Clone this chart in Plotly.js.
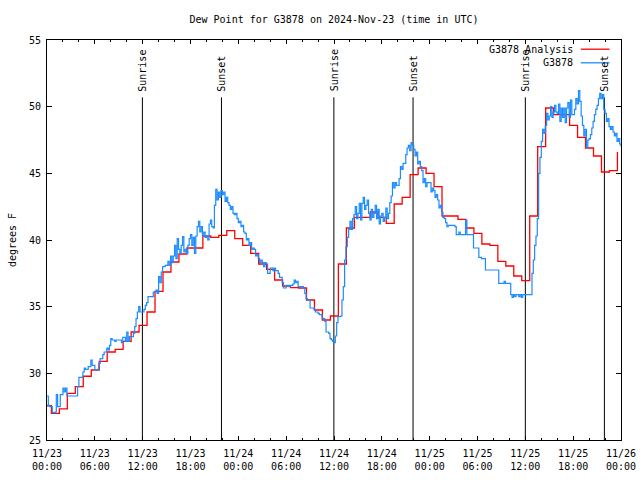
<!DOCTYPE html>
<html>
<head>
<meta charset="utf-8">
<script src="https://cdn.plot.ly/plotly-3.0.1.min.js"></script>
<style>html,body{margin:0;padding:0;background:#fff;}#chart{width:640px;height:480px;}</style>
</head>
<body>
<div id="chart"></div>
<script>
// ---- data ----
const startDay = Date.UTC(2024, 10, 23); // 2024-11-23 00:00 UTC
const blueStepMinutes = 10;
// G3878 observations, every 10 minutes from 11/23 00:00 (one row per hour)
const blueValues = [
  28.3, 27.6, 27.5, 27.5, 27.05, 27.05,
  27.1, 28.4, 27.5, 27.5, 28.4, 28.4,
  28.9, 28.6, 28.9, 28.3, 28.3, 28.3,
  28.3, 28.3, 28.3, 28.3, 28.3, 29.0,
  29.7, 29.7, 29.7, 30.1, 30.4, 30.3,
  30.3, 30.5, 30.5, 31.0, 30.6, 30.6,
  30.25, 30.25, 30.3, 30.75, 31.1, 31.1,
  31.4, 31.6, 31.6, 31.9, 31.75, 32.1,
  32.6, 32.5, 32.5, 32.4, 32.5, 32.5,
  32.5, 32.5, 32.3, 32.7, 32.7, 32.4,
  33.1, 32.4, 32.75, 32.75, 32.75, 33.0,
  33.5, 34.1, 34.6, 35.0, 34.6, 34.6,
  34.6, 34.8, 35.1, 35.3, 35.75, 35.75,
  35.75, 35.75, 36.1, 36.1, 36.25, 36.0,
  37.25, 36.8, 37.6, 38.0, 38.0, 38.1,
  38.1, 38.4, 38.1, 38.8, 38.3, 38.8,
  39.6, 38.6, 40.1, 39.3, 39.0, 39.6,
  40.25, 39.1, 39.3, 39.0, 39.6, 40.1,
  40.4, 39.6, 40.2, 39.0, 40.3, 41.0,
  41.4, 40.6, 41.0, 40.3, 40.6, 40.2,
  40.3, 40.0, 41.2, 41.5, 41.0, 40.9,
  42.6, 43.8, 43.0, 43.6, 43.2, 43.7,
  43.4, 43.6, 42.9, 43.2, 42.8, 42.6,
  42.3, 42.5, 42.0, 41.9, 42.0, 41.6,
  41.3, 41.4, 41.0, 41.1, 40.6, 40.5,
  40.0, 40.1, 39.6, 39.8, 39.3, 39.4,
  39.3, 38.8, 38.9, 38.6, 38.3, 38.5,
  38.3, 38.0, 38.3, 38.2, 37.5, 37.5,
  37.9, 37.9, 37.7, 37.9, 37.7, 37.7,
  37.5, 37.2, 37.2, 36.8, 36.4, 36.4,
  36.6, 36.6, 36.5, 36.6, 36.6, 36.7,
  37.0, 36.8, 36.9, 36.5, 36.5, 36.5,
  36.5, 36.4, 36.0, 35.6, 35.5, 35.5,
  34.9, 34.9, 34.9, 34.8, 34.6, 34.6,
  34.5, 34.4, 34.4, 34.1, 34.1, 33.9,
  33.1, 33.1, 33.0, 32.6, 32.5, 32.4,
  32.3, 32.8, 33.8, 34.25, 34.25, 34.3,
  35.5, 36.5, 38.5, 39.5, 40.2, 40.8,
  41.4, 40.8, 41.6, 41.9, 42.5, 41.6,
  42.0, 42.75, 41.5, 42.75, 43.2, 42.3,
  42.6, 43.0, 42.0, 41.5, 42.3, 41.7,
  42.0, 42.6, 41.6, 42.3, 41.2, 41.8,
  42.0, 41.4, 41.7, 42.4, 41.6, 42.0,
  42.8, 43.3, 44.3, 43.9, 44.3, 44.1,
  44.1, 44.6, 45.5, 45.3, 45.75, 45.75,
  46.4, 46.9, 47.1, 46.7, 47.3, 47.1,
  46.8, 46.3, 46.6, 45.7, 45.9, 45.5,
  45.2, 44.3, 44.6, 44.0, 44.3, 44.3,
  44.3, 43.6, 43.9, 43.7, 43.2, 43.4,
  43.0, 42.4, 42.6, 42.1, 41.7, 41.6,
  41.3, 41.0, 41.1, 41.1, 41.1, 41.1,
  41.1, 41.0, 40.4, 40.4, 40.6, 40.4,
  40.4, 40.4, 40.4, 41.5, 40.4, 40.4,
  40.4, 40.4, 40.4, 39.4, 39.4, 39.4,
  39.4, 38.7, 38.7, 38.6, 38.6, 38.6,
  37.75, 37.75, 37.75, 37.75, 37.75, 37.75,
  37.75, 37.75, 37.75, 37.75, 36.75, 36.75,
  36.75, 36.75, 36.9, 36.75, 36.75, 36.75,
  36.75, 35.9, 35.7, 35.9, 35.75, 35.9,
  35.9, 35.75, 35.9, 35.7, 35.9, 35.9,
  35.9, 35.9, 35.9, 35.9, 35.9, 37.5,
  38.5, 39.6, 40.3, 41.6, 45.0, 46.2,
  47.4, 48.3, 48.0, 48.6, 49.5, 49.0,
  49.3, 50.0, 49.2, 49.6, 50.1, 49.6,
  49.5, 50.2, 48.9, 49.9, 49.2, 49.9,
  48.8, 49.9, 50.3, 49.2, 50.5, 49.4,
  49.4, 49.8, 50.6, 50.2, 51.2, 50.4,
  49.3, 48.6, 47.8, 48.3, 46.9, 47.5,
  47.6, 47.9, 48.4, 48.9, 49.4, 49.8,
  50.1, 50.6, 51.0, 50.6, 50.9, 49.8,
  49.5, 48.9, 49.1, 48.5, 48.3, 48.5,
  48.1, 47.8, 48.0, 47.4, 47.6, 47.2,
  47.0
];
// G3878 Analysis, hourly, each value starting at HH:33 (first one from 11/22 23:33)
const redFirstHour = -0.45;
const redValues = [
  27.57, 27.0, 27.33, 28.5, 29.0, 29.78, 30.25, 30.9, 31.6, 31.8,
  32.4, 33.1, 33.6, 34.6, 36.15, 37.6, 38.35, 38.95, 39.4, 39.4,
  40.3, 40.2, 40.35, 40.7, 40.1, 39.6, 39.0, 38.2, 37.8, 37.0,
  36.55, 36.43, 36.4, 35.5, 34.75, 34.0, 34.3, 38.2, 40.9, 41.7,
  41.7, 42.1, 41.7, 41.25, 42.7, 43.2, 44.9, 45.4, 45.0, 44.0,
  41.8, 41.8, 41.55, 40.9, 40.5, 39.7, 39.6, 38.4, 38.05, 37.3,
  36.95, 41.8, 47.0, 49.9, 49.4, 49.4, 48.6, 47.7, 46.9, 46.3,
  45.1, 45.2, 46.6
];
const sunriseTimes = ['2024-11-23 11:58', '2024-11-24 11:59', '2024-11-25 12:00'];
const sunsetTimes  = ['2024-11-23 21:53', '2024-11-24 21:55', '2024-11-25 21:55'];
const xTickDates = ['2024-11-23 00:00','2024-11-23 06:00','2024-11-23 12:00','2024-11-23 18:00',
  '2024-11-24 00:00','2024-11-24 06:00','2024-11-24 12:00','2024-11-24 18:00',
  '2024-11-25 00:00','2024-11-25 06:00','2024-11-25 12:00','2024-11-25 18:00','2024-11-26 00:00'];
const xTickLabels = ['11/23<br>00:00','11/23<br>06:00','11/23<br>12:00','11/23<br>18:00',
  '11/24<br>00:00','11/24<br>06:00','11/24<br>12:00','11/24<br>18:00',
  '11/25<br>00:00','11/25<br>06:00','11/25<br>12:00','11/25<br>18:00','11/26<br>00:00'];
const yTickVals = [25, 30, 35, 40, 45, 50, 55];

// ---- helpers ----
function fmt(hours) {
  const d = new Date(startDay + Math.round(hours * 3600000));
  return d.toISOString().slice(0, 19).replace('T', ' ');
}
const blueTimes = blueValues.map((v, i) => fmt(i * blueStepMinutes / 60));
const redTimes = redValues.map((v, i) => fmt(redFirstHour + i));

const FONT = 'DejaVu Sans Mono, Liberation Mono, monospace';
const RED = '#ff0000';
const BLUE = '#1a8cff';

// sun lines
const sunX = [], sunY = [];
sunriseTimes.concat(sunsetTimes).forEach(t => { sunX.push(t, t, null); sunY.push(25, 50.7, null); });

const traces = [
  {x: sunX, y: sunY, mode: 'lines', line: {color: '#000', width: 1}, hoverinfo: 'skip', showlegend: false},
  {x: redTimes, y: redValues, mode: 'lines', line: {color: RED, width: 1.3, shape: 'hv'}, name: 'G3878 Analysis', showlegend: false},
  {x: blueTimes, y: blueValues, mode: 'lines', line: {color: BLUE, width: 1.2, shape: 'hv'}, name: 'G3878', showlegend: false}
];

const annotations = [];
sunriseTimes.forEach(t => annotations.push({x: t, y: 51.0, xref: 'x', yref: 'y', text: 'Sunrise', textangle: -90,
  showarrow: false, xanchor: 'center', yanchor: 'bottom', font: {family: FONT, size: 10, color: '#000'}}));
sunsetTimes.forEach(t => annotations.push({x: t, y: 51.0, xref: 'x', yref: 'y', text: 'Sunset', textangle: -90,
  showarrow: false, xanchor: 'center', yanchor: 'bottom', font: {family: FONT, size: 10, color: '#000'}}));
// legend (gnuplot style: text then sample)
annotations.push({x: 0.919, y: 0.977, xref: 'paper', yref: 'paper', text: 'G3878 Analysis', showarrow: false,
  xanchor: 'right', yanchor: 'middle', font: {family: FONT, size: 10, color: '#000'}});
annotations.push({x: 0.919, y: 0.943, xref: 'paper', yref: 'paper', text: 'G3878', showarrow: false,
  xanchor: 'right', yanchor: 'middle', font: {family: FONT, size: 10, color: '#000'}});

const shapes = [
  {type: 'line', xref: 'paper', yref: 'paper', x0: 0.930, x1: 0.980, y0: 0.977, y1: 0.977, line: {color: RED, width: 1.3}},
  {type: 'line', xref: 'paper', yref: 'paper', x0: 0.930, x1: 0.980, y0: 0.943, y1: 0.943, line: {color: BLUE, width: 1.3}}
];

const layout = {
  width: 640, height: 480,
  margin: {l: 47, r: 19, t: 40, b: 40, pad: 0},
  paper_bgcolor: '#fff', plot_bgcolor: '#fff',
  font: {family: FONT, size: 10, color: '#000'},
  title: {text: 'Dew Point for G3878 on 2024-Nov-23 (time in UTC)', x: 0.5, xref: 'paper', xanchor: 'center',
    y: 0.96, yref: 'container', yanchor: 'middle', font: {family: FONT, size: 10, color: '#000'}},
  xaxis: {
    type: 'date', range: ['2024-11-23 00:00', '2024-11-26 00:00'],
    tickmode: 'array', tickvals: xTickDates, ticktext: xTickLabels,
    ticks: 'inside', ticklen: 4, tickwidth: 1, tickcolor: '#000', ticklabelstandoff: 4,
    minor: {dtick: 7200000, tick0: '2024-11-23 00:00', ticks: 'inside', ticklen: 2, tickcolor: '#000', showgrid: false},
    showline: true, linecolor: '#000', linewidth: 1, mirror: 'ticks',
    showgrid: false, zeroline: false, fixedrange: true,
    tickfont: {family: FONT, size: 10, color: '#000'}
  },
  yaxis: {
    range: [25, 55], tickmode: 'array', tickvals: yTickVals,
    ticks: 'inside', ticklen: 5, tickwidth: 1, tickcolor: '#000', ticklabelstandoff: 3,
    showline: true, linecolor: '#000', linewidth: 1, mirror: 'ticks',
    showgrid: false, zeroline: false, fixedrange: true,
    tickfont: {family: FONT, size: 10, color: '#000'},
    title: {text: 'degrees F', standoff: 10, font: {family: FONT, size: 10, color: '#000'}}
  },
  annotations: annotations,
  shapes: shapes,
  showlegend: false
};

Plotly.newPlot('chart', traces, layout, {displayModeBar: false, staticPlot: true});
</script>
</body>
</html>
